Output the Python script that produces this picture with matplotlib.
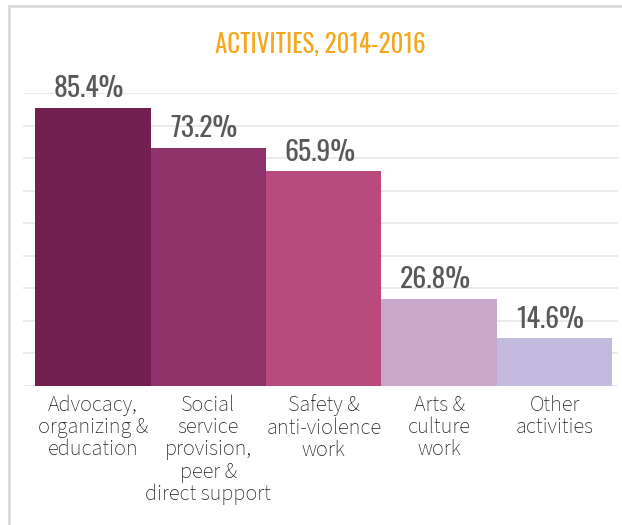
import numpy as np
import matplotlib.pyplot as plt
from matplotlib.lines import Line2D

# Data
categories = ['Advocacy,\norganizing &\neducation',
              'Social\nservice\nprovision,\npeer &\ndirect support',
              'Safety &\nanti-violence\nwork',
              'Arts &\nculture\nwork',
              'Other\nactivities']
values = [85.4, 73.2, 65.9, 26.8, 14.6]
value_labels = ['85.4%', '73.2%', '65.9%', '26.8%', '14.6%']
colors = ['#722050', '#8F326B', '#B84A7E', '#C9A6CC', '#C2BADF']

narrow = ['Oswald', 'Antonio', 'Fjalla One', 'DejaVu Sans']
light = ['Source Sans 3', 'Source Sans Pro', 'Lato', 'DejaVu Sans']

fig = plt.figure(figsize=(6.22, 5.25), dpi=100)
ax = fig.add_axes([23/622, 1 - 386/525, (618 - 23)/622, (386 - 93)/525])

x = np.arange(len(values))
ax.bar(x, values, width=1.0, color=colors, zorder=2)

for xi, v, lab in zip(x, values, value_labels):
    ax.annotate(lab, (xi, v), xytext=(-3, 4), textcoords='offset points',
                ha='center', va='bottom', fontsize=20, fontweight='bold',
                color='#58595B', family=narrow, zorder=3)

ax.set_xlim(-0.604, 4.548)
ax.set_ylim(0, 90)
ax.set_yticks(np.arange(0, 91, 10))
ax.yaxis.grid(True, color='#E6E6E6', linewidth=1.2, zorder=0)
ax.tick_params(axis='y', length=0, labelleft=False)
ax.tick_params(axis='x', length=0, pad=6)
for s in ax.spines.values():
    s.set_visible(False)

ax.set_xticks(x)
ax.set_xticklabels(categories, fontsize=16, family=light,
                   fontweight='light', color='#231F20', linespacing=1.05, va='top')

fig.text(320/622, 1 - 45/525, 'ACTIVITIES, 2014-2016', ha='center', va='center',
         fontsize=18, fontweight='bold', color='#F4A81D', family=narrow)

# Light gray frame around the panel
fig.add_artist(Line2D([9/622, 9/622], [0, 1 - 6/525], transform=fig.transFigure,
                      color='#D9D9D9', linewidth=2))
fig.add_artist(Line2D([9/622, 1], [1 - 6/525, 1 - 6/525], transform=fig.transFigure,
                      color='#D9D9D9', linewidth=2))

plt.savefig('out.png', dpi=100)
